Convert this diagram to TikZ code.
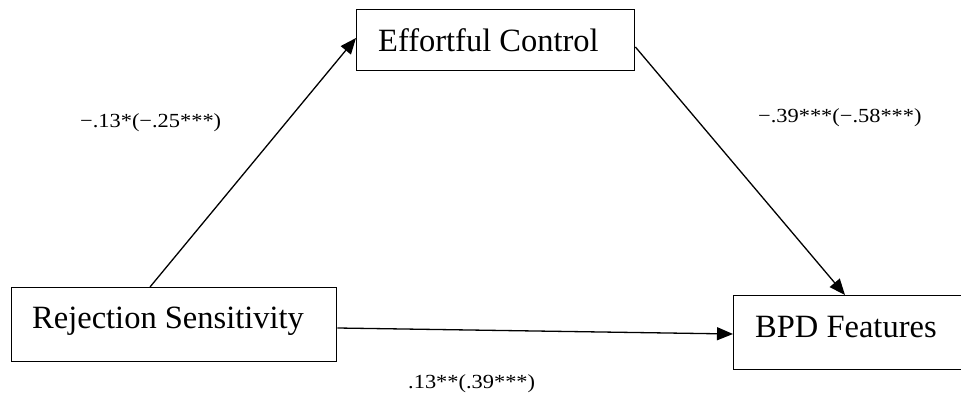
\documentclass[tikz,border=0pt]{standalone}
\usepackage{fontspec}
\setmainfont{Liberation Serif}
\newfontfamily\coeffont{Liberation Serif}[FakeStretch=1.12]
\usetikzlibrary{arrows.meta}

\tikzset{
  box/.style={draw=black, line width=1.4pt, inner sep=0pt, anchor=north west},
  boxtext/.style={anchor=base west, inner sep=0pt, font=\fontsize{32.5}{36}\selectfont},
  coef/.style={anchor=base west, inner sep=0pt, font=\coeffont\fontsize{20}{22}\selectfont},
  arr/.style={line width=1.3pt, -{Triangle[length=16pt,width=13pt]}},
}

\begin{document}
\begin{tikzpicture}[x=1pt,y=-1pt]
  \useasboundingbox (0,0) rectangle (961,393);

  % the three construct boxes
  \node[box, minimum width=278pt, minimum height=61pt] (ec)  at (356,9)   {};
  \node[box, minimum width=325pt, minimum height=74pt] (rs)  at (11,287)  {};
  \node[box, minimum width=245pt, minimum height=74pt] (bpd) at (733,295) {};

  \node[boxtext] (ectext)  at (378,52)  {Effortful Control};
  \node[boxtext] (rstext)  at (32,328)  {Rejection Sensitivity};
  \node[boxtext] (bpdtext) at (755,337) {BPD Features};

  % paths
  \draw[arr] ([xshift=139pt]rs.north west) -- ([yshift=-29pt]ec.north west);
  \draw[arr] ([yshift=-38pt]ec.north east) -- ([xshift=112pt]bpd.north west);
  \draw[arr] ([yshift=-41pt]rs.north east) -- ([yshift=-39pt]bpd.north west);

  % path coefficients
  \node[coef] (a) at (80,128)  {−.13*(−.25***)};
  \node[coef] (b) at (758,123) {−.39***(−.58***)};
  \node[coef] (c) at (408,388) {.13**(.39***)};
\end{tikzpicture}
\end{document}
